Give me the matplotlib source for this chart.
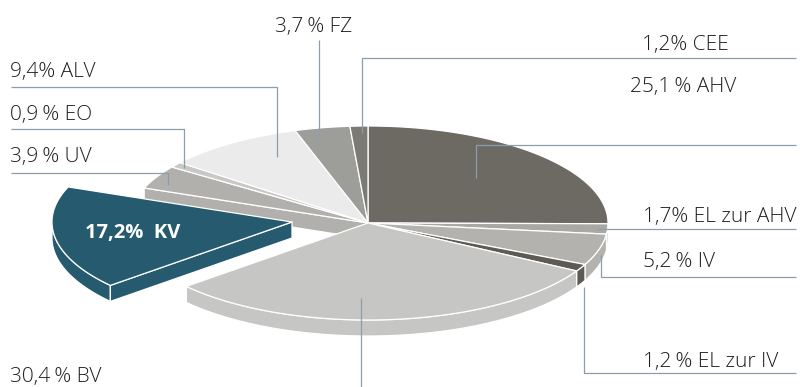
import numpy as np
import matplotlib
matplotlib.use("Agg")
import matplotlib.pyplot as plt
from matplotlib.patches import Polygon

# ---- data ----
names = ["AHV", "EL zur AHV", "IV", "EL zur IV", "BV", "KV", "UV", "EO", "ALV", "FZ", "CEE"]
values = [25.1, 1.7, 5.2, 1.2, 30.4, 17.2, 3.9, 0.9, 9.4, 3.7, 1.2]
label_texts = ["25,1\u2009% AHV", "1,7% EL zur AHV", "5,2\u2009% IV", "1,2\u2009% EL zur IV",
               "30,4\u2009% BV", "17,2%  KV", "3,9\u2009% UV", "0,9\u2009% EO",
               "9,4% ALV", "3,7\u2009% FZ", "1,2% CEE"]
colors = ["#6d6a63", "#a9a8a4", "#b3b2af", "#5e5a54", "#c6c6c4", "#265a6e",
          "#b1b0ad", "#c9c8c6", "#ebebeb", "#9d9d99", "#7c7a75"]

# ---- layout ----
CX, CY, RX, RY, DEPTH = 368, 223, 240, 97, 16
offsets = {"KV": (-76, -1)}
LINE_C = "#8a9fae"
TEXT_C = "#1e1e1e"
FONT = ["Open Sans", "DejaVu Sans"]

# label positions (x, baseline y) and leader paths
label_pos = {
    "AHV": (630, 92), "EL zur AHV": (643, 222), "IV": (643, 267), "EL zur IV": (643, 367),
    "BV": (10, 382), "KV": (85, 238), "UV": (10, 162), "EO": (10, 120),
    "ALV": (10, 77), "FZ": (275, 32), "CEE": (642, 50),
}
leaders = {
    "AHV": [(476, 178), (476, 145), (796, 145)],
    "EL zur AHV": [(597, 229), (796, 229)],
    "IV": [(601, 255), (601, 277), (796, 277)],
    "EL zur IV": [(584, 287), (584, 373), (796, 373)],
    "BV": [(361, 298), (361, 387)],
    "UV": [(168, 185), (168, 173), (11, 173)],
    "EO": [(184, 168), (184, 129), (11, 129)],
    "ALV": [(277, 157), (277, 87), (11, 87)],
    "FZ": [(319, 138), (319, 40)],
    "CEE": [(362, 133), (362, 58), (796, 58)],
}

fig = plt.figure(figsize=(8, 3.87), dpi=100)
ax = fig.add_axes([0, 0, 1, 1])
ax.set_xlim(0, 800)
ax.set_ylim(387, 0)
ax.axis("off")

total = sum(values)
cum = np.concatenate([[0], np.cumsum(values)]) / total
a_start = 90 - 360 * cum[:-1]   # hi (ccw)
a_end = 90 - 360 * cum[1:]      # lo


def rim(t, off, dz=0.0):
    r = np.radians(t)
    return (CX + RX * np.cos(r) + off[0], CY - RY * np.sin(r) + off[1] + dz)


def arc(lo, hi, off, dz=0.0):
    n = max(int(abs(hi - lo) * 2) + 2, 3)
    ts = np.linspace(lo, hi, n)
    return [rim(t, off, dz) for t in ts]


EDGE = dict(edgecolor="white", linewidth=0.9, joinstyle="round")
n = len(values)
sides = []
# outer curved sides (front half: -180..0)
for i in range(n):
    off = offsets.get(names[i], (0, 0))
    lo, hi = max(a_end[i], -180), min(a_start[i], 0)
    if hi > lo:
        top = arc(lo, hi, off)
        bot = arc(lo, hi, off, DEPTH)[::-1]
        ymean = np.mean([p[1] for p in top])
        sides.append((ymean, Polygon(top + bot, closed=True, facecolor=colors[i], **EDGE)))
# radial faces adjacent to an exploded slice
for i in range(n):
    off = offsets.get(names[i], (0, 0))
    for edge, nb, normal in ((a_start[i], (i - 1) % n, a_start[i] + 90),
                             (a_end[i], (i + 1) % n, a_end[i] - 90)):
        if offsets.get(names[nb], (0, 0)) == off:
            continue
        if np.sin(np.radians(normal)) >= 0:
            continue
        c0 = (CX + off[0], CY + off[1])
        r0 = rim(edge, off)
        quad = [c0, r0, (r0[0], r0[1] + DEPTH), (c0[0], c0[1] + DEPTH)]
        sides.append((np.mean([p[1] for p in quad]), Polygon(quad, closed=True, facecolor=colors[i], **EDGE)))
for _, p in sorted(sides, key=lambda s: s[0]):
    ax.add_patch(p)

# top surfaces
for i in range(n):
    off = offsets.get(names[i], (0, 0))
    pts = [(CX + off[0], CY + off[1])] + arc(a_end[i], a_start[i], off)
    ax.add_patch(Polygon(pts, closed=True, facecolor=colors[i], **EDGE))

# leader lines
for name, path in leaders.items():
    xs, ys = zip(*path)
    ax.plot(xs, ys, color=LINE_C, lw=0.9, solid_capstyle="butt")

# labels
for i, name in enumerate(names):
    x, y = label_pos[name]
    if name in offsets:
        ax.text(x, y, label_texts[i], color="white", fontsize=14.5, fontweight="bold",
                family=FONT, va="baseline", ha="left")
    else:
        ax.text(x, y, label_texts[i], color=TEXT_C, fontsize=15, fontweight="light",
                family=FONT, va="baseline", ha="left")

fig.savefig("out.png", dpi=100)
